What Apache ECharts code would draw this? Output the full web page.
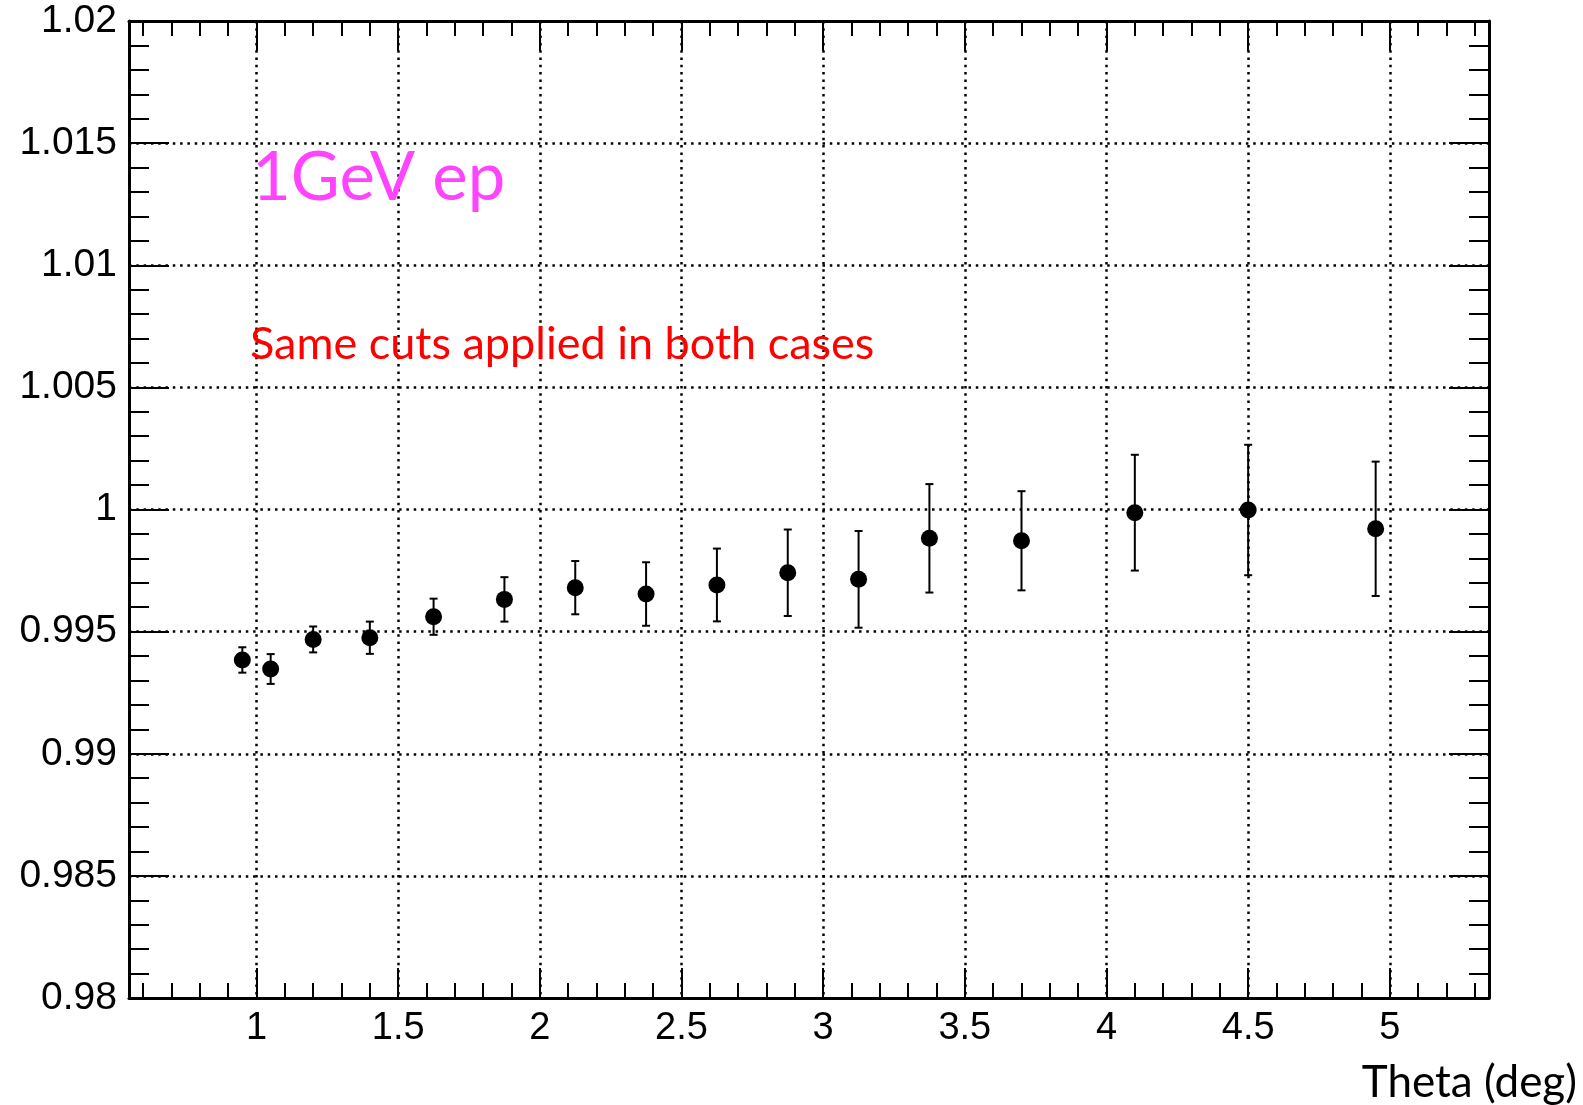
<!DOCTYPE html>
<html>
<head>
<meta charset="utf-8">
<script src="https://cdn.jsdelivr.net/npm/echarts@6/dist/echarts.min.js"></script>
<style>
html, body { margin: 0; padding: 0; background: #fff; }
#chart { width: 1583px; height: 1105px; }
</style>
</head>
<body>
<div id="chart"></div>
<script>
// ---- data ----
const thetaDeg = [0.95, 1.05, 1.2, 1.4, 1.625, 1.875, 2.125, 2.375, 2.625, 2.875, 3.125, 3.375, 3.7, 4.1, 4.5, 4.95];
const ratio = [0.99384, 0.99347, 0.99468, 0.99475, 0.99561, 0.99632, 0.9968, 0.99654, 0.99691, 0.99741, 0.99714, 0.99882, 0.99872, 0.99987, 0.99998, 0.99921];
const ratioErr = [0.00052, 0.00061, 0.00053, 0.00066, 0.00074, 0.00091, 0.00109, 0.0013, 0.00149, 0.00177, 0.00198, 0.00222, 0.00203, 0.00237, 0.00267, 0.00275];
const xMajorTicks = [1, 1.5, 2, 2.5, 3, 3.5, 4, 4.5, 5];
const xMinorTicks = [0.6, 0.7, 0.8, 0.9, 1.1, 1.2, 1.3, 1.4, 1.6, 1.7, 1.8, 1.9, 2.1, 2.2, 2.3, 2.4, 2.6, 2.7, 2.8, 2.9, 3.1, 3.2, 3.3, 3.4, 3.6, 3.7, 3.8, 3.9, 4.1, 4.2, 4.3, 4.4, 4.6, 4.7, 4.8, 4.9, 5.1, 5.2, 5.3];
const xRange = [0.55, 5.35];
const yRange = [0.98, 1.02];
const yStep = 0.005;
const xTitle = 'Theta (deg)';
const label1 = '1GeV ep';
const label2 = 'Same cuts applied in both cases';

// ---- build ----
const points = thetaDeg.map((x, i) => [x, ratio[i]]);
const bars = thetaDeg.map((x, i) => [x, ratio[i] - ratioErr[i], ratio[i] + ratioErr[i]]);

const dotted = { color: '#000', width: 2.5, type: [2.5, 4.8] };
const labelFont = { fontFamily: '"Liberation Sans", Arial, sans-serif', color: '#000' };

function xAxisDef(pos, ticks, len, withLabels, withLine, withSplit) {
  return {
    type: 'value', position: pos, min: xRange[0], max: xRange[1],
    axisLine: { show: withLine, lineStyle: { color: '#000', width: 3 } },
    axisTick: { show: true, inside: true, length: len, customValues: ticks, lineStyle: { color: '#000', width: 2 } },
    axisLabel: withLabels ? Object.assign({ show: true, customValues: ticks, fontSize: 38, margin: 12 }, labelFont) : { show: false },
    splitLine: { show: withSplit, lineStyle: dotted },
    minorTick: { show: false }
  };
}

function yAxisDef(pos, withLabels, withSplit) {
  return {
    type: 'value', position: pos, min: yRange[0], max: yRange[1], interval: yStep,
    axisLine: { show: true, onZero: false, lineStyle: { color: '#000', width: 3 } },
    axisTick: { show: true, inside: true, length: 40, lineStyle: { color: '#000', width: 2 } },
    minorTick: { show: true, splitNumber: 5, length: 20, lineStyle: { color: '#000', width: 2 } },
    axisLabel: withLabels ? Object.assign({ show: true, fontSize: 39, margin: 12 }, labelFont) : { show: false },
    splitLine: { show: withSplit, lineStyle: dotted }
  };
}

const chart = echarts.init(document.getElementById('chart'), null, { renderer: 'canvas' });
chart.setOption({
  animation: false,
  backgroundColor: '#fff',
  grid: { left: 129, right: 94, top: 21, bottom: 107, containLabel: false },
  xAxis: [
    xAxisDef('bottom', xMajorTicks, 30, true, true, true),
    xAxisDef('bottom', xMinorTicks, 15, false, false, false),
    xAxisDef('top', xMajorTicks, 30, false, true, false),
    xAxisDef('top', xMinorTicks, 15, false, false, false)
  ],
  yAxis: [
    yAxisDef('left', true, true),
    yAxisDef('right', false, false)
  ],
  series: [
    {
      type: 'custom',
      xAxisIndex: 0, yAxisIndex: 0,
      data: bars,
      z: 3,
      renderItem: function (params, api) {
        const x = api.value(0);
        const lo = api.coord([x, api.value(1)]);
        const hi = api.coord([x, api.value(2)]);
        const cap = 4;
        const st = { stroke: '#000', lineWidth: 2 };
        return {
          type: 'group',
          children: [
            { type: 'line', shape: { x1: lo[0], y1: lo[1], x2: hi[0], y2: hi[1] }, style: st },
            { type: 'line', shape: { x1: lo[0] - cap, y1: lo[1], x2: lo[0] + cap, y2: lo[1] }, style: st },
            { type: 'line', shape: { x1: hi[0] - cap, y1: hi[1], x2: hi[0] + cap, y2: hi[1] }, style: st }
          ]
        };
      }
    },
    {
      type: 'scatter',
      xAxisIndex: 0, yAxisIndex: 0,
      data: points,
      symbol: 'circle',
      symbolSize: 17,
      itemStyle: { color: '#000', opacity: 1 },
      emphasis: { disabled: true },
      z: 4
    }
  ],
  graphic: [
    { type: 'text', x: 252, y: 145, z: 10,
      style: { text: label1, fill: '#ff44ff', font: '67px Lato, "Noto Sans", sans-serif', textVerticalAlign: 'top' } },
    { type: 'text', x: 250, y: 322, z: 10,
      style: { text: label2, fill: '#ff0000', font: '45px Lato, "Noto Sans", sans-serif', textVerticalAlign: 'top' } },
    { type: 'text', x: 1577, y: 1061, z: 10,
      style: { text: xTitle, fill: '#000', font: '44px Lato, "Noto Sans", sans-serif', textAlign: 'right', textVerticalAlign: 'top' } }
  ]
});
</script>
</body>
</html>
